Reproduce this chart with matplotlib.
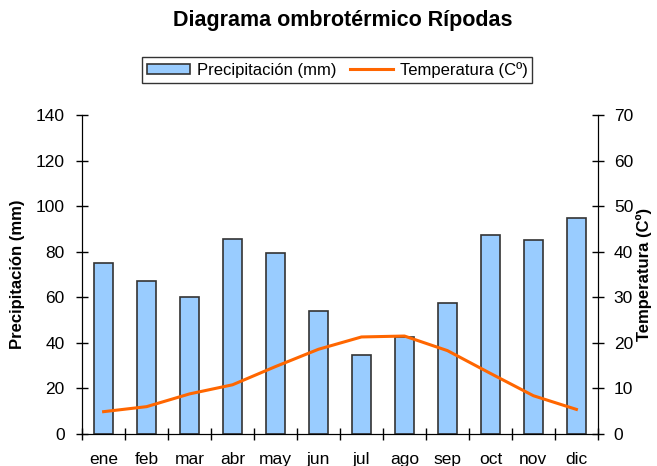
import matplotlib.pyplot as plt
import numpy as np

plt.rcParams['font.family'] = ['Liberation Sans', 'DejaVu Sans']

months = ['ene', 'feb', 'mar', 'abr', 'may', 'jun', 'jul', 'ago', 'sep', 'oct', 'nov', 'dic']
precip = [75, 67, 60, 85.5, 79.5, 54, 34.5, 42.7, 57.5, 87.5, 85, 95]
temp = [4.9, 6.0, 8.8, 10.8, 14.8, 18.6, 21.3, 21.5, 18.3, 13.3, 8.4, 5.4]

fig = plt.figure(figsize=(6.57, 4.66), dpi=100)
ax = fig.add_axes([0.125, 0.0687, 0.785, 0.6843])
x = np.arange(len(months))

ax.bar(x, precip, width=0.44, color='#99ccff', edgecolor='#333333', linewidth=1.2,
       label='Precipitación (mm)', zorder=2)
ax.set_xlim(-0.5, 11.5)
ax.set_ylim(0, 140)
ax.set_yticks(range(0, 141, 20))
ax.set_xticks(x)
ax.set_xticklabels(months)
ax.set_xticks(np.arange(-0.5, 12, 1), minor=True)
ax.tick_params(axis='x', which='major', length=0, pad=13, labelsize=12.5)
ax.tick_params(axis='x', which='minor', direction='inout', length=9, width=1)
ax.tick_params(axis='y', direction='inout', length=9, width=1, labelsize=12.5, pad=8)
ax.set_ylabel('Precipitación (mm)', fontsize=12, fontweight='bold', labelpad=8)
ax.spines['top'].set_visible(False)

ax2 = ax.twinx()
ax2.plot(x, temp, color='#ff6600', linewidth=2.2, label='Temperatura (Cº)', zorder=3)
ax2.set_ylim(0, 70)
ax2.set_yticks(range(0, 71, 10))
ax2.tick_params(axis='y', direction='inout', length=9, width=1, labelsize=12.5, pad=7)
ax2.set_ylabel('Temperatura (Cº)', fontsize=12, fontweight='bold', labelpad=2)
ax2.spines['top'].set_visible(False)

fig.suptitle('Diagrama ombrotérmico Rípodas', x=0.522, y=0.978, fontsize=15.5, fontweight='bold')

h1, l1 = ax.get_legend_handles_labels()
h2, l2 = ax2.get_legend_handles_labels()
leg = fig.legend(h1 + h2, l1 + l2, loc='center', bbox_to_anchor=(0.513, 0.85), ncol=2,
                 fontsize=12, frameon=True, fancybox=False, edgecolor='black',
                 handlelength=2.6, handleheight=0.6, columnspacing=0.8,
                 handletextpad=0.4, borderpad=0.3)
leg.get_frame().set_linewidth(1)

fig.savefig('out.png', dpi=100)
